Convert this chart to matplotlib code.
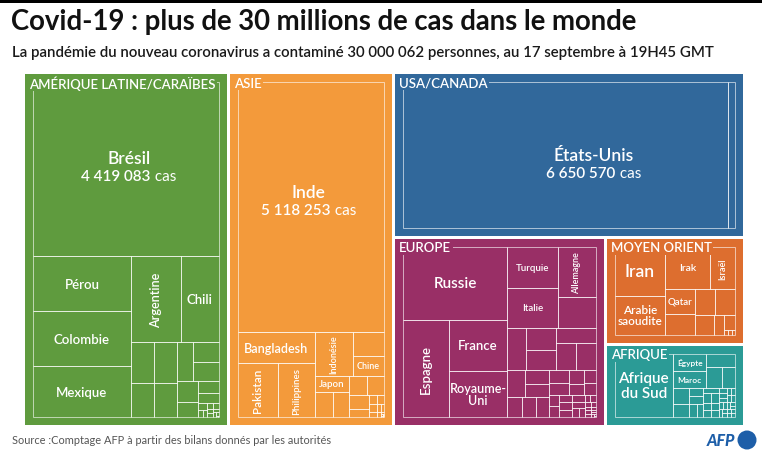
import matplotlib

matplotlib.use("Agg")
import matplotlib.pyplot as plt
from matplotlib.patches import Rectangle, Circle

plt.rcParams["font.family"] = ["Lato", "DejaVu Sans"]

# cases per country, 17 Sept 2020 19H45 GMT (AFP tally)
latam_names = ["Brésil", "Pérou", "Colombie", "Mexique", "Argentine", "Chili", "Bolivie",
               "Équateur", "Rép. dominicaine", "Panama", "Guatemala", "Honduras", "Venezuela",
               "Costa Rica", "Porto Rico", "Paraguay", "Salvador", "Haïti", "Nicaragua",
               "Cuba", "Suriname", "Jamaïque", "Bahamas", "Trinité-et-Tobago", "Guyana",
               "Uruguay", "Belize", "Barbade", "Antigua"]
latam_cases = [4419083, 738020, 736377, 680931, 589012, 442827, 131000, 126000, 107000,
               105000, 87000, 70000, 66000, 60000, 44000, 35000, 29000, 8600, 5100, 4900,
               4700, 4400, 3300, 3100, 2200, 1800, 1600, 190, 95]

asia_names = ["Inde", "Bangladesh", "Pakistan", "Philippines", "Indonésie", "Kazakhstan",
              "Chine", "Japon", "Népal", "Singapour", "Ouzbékistan", "Kirghizistan",
              "Afghanistan", "Corée du Sud", "Malaisie", "Tadjikistan", "Maldives",
              "Hong Kong", "Birmanie", "Thaïlande", "Sri Lanka", "Vietnam", "Taïwan",
              "Mongolie", "Cambodge", "Bhoutan", "Brunei"]
asia_cases = [5118253, 344264, 304386, 276289, 232628, 107590, 85244, 77009, 61593, 57454,
              49826, 45152, 38897, 22783, 10147, 9167, 9009, 4976, 4434, 3490, 3271, 1063,
              498, 311, 275, 239, 145]

usa_names = ["États-Unis", "Canada"]
usa_cases = [6650570, 140867]

europe_names = ["Russie", "Espagne", "France", "Royaume-Uni", "Turquie", "Italie",
                "Allemagne", "Ukraine", "Roumanie", "Belgique", "Pays-Bas", "Suède",
                "Pologne", "Biélorussie", "Portugal", "Suisse", "Arménie", "Moldavie",
                "Rép. tchèque", "Azerbaïdjan", "Autriche", "Serbie", "Irlande", "Bosnie",
                "Danemark", "Bulgarie", "Macédoine du Nord", "Kosovo", "Hongrie", "Croatie",
                "Grèce", "Norvège", "Albanie", "Finlande", "Luxembourg", "Slovaquie",
                "Monténégro", "Slovénie", "Lituanie", "Géorgie", "Estonie", "Malte",
                "Islande", "Chypre", "Lettonie", "Andorre", "Saint-Marin", "Monaco"]
europe_cases = [1086955, 640040, 428696, 381614, 299810, 293025, 268960, 166244, 111550,
                96081, 88073, 87345, 76571, 75674, 67176, 48265, 46119, 44000, 39262, 38645,
                36217, 32908, 31549, 22431, 21847, 18863, 16371, 14600, 14460, 14261, 14400,
                12480, 11816, 8725, 7600, 5700, 5500, 3900, 3100, 2800, 2600, 2600, 2200,
                1500, 1400, 1400, 730, 180]

mo_names = ["Iran", "Arabie saoudite", "Irak", "Israël", "Qatar", "Koweït", "Oman",
            "Émirats arabes unis", "Bahreïn", "Palestine", "Liban", "Syrie", "Jordanie",
            "Yémen"]
mo_cases = [410334, 327551, 304589, 175972, 122917, 98528, 90000, 84242, 63135, 33000,
            28000, 3600, 3300, 2024]

africa_names = ["Afrique du Sud", "Égypte", "Maroc", "Éthiopie", "Nigeria", "Algérie",
                "Ghana", "Kenya", "Libye", "Cameroun", "Côte d'Ivoire", "Madagascar",
                "Sénégal", "Zambie", "Soudan", "RD Congo", "Guinée", "Namibie", "Gabon",
                "Zimbabwe", "Mauritanie", "Tunisie", "Malawi", "Mozambique", "Djibouti",
                "Ouganda", "Eswatini", "Cap-Vert", "Centrafrique", "Rwanda", "Angola",
                "Somalie", "Gambie", "Congo", "Mali", "Soudan du Sud", "Botswana", "Bénin"]
africa_cases = [653444, 101500, 97264, 66224, 56256, 49413, 45600, 36300, 22000, 20000,
                18800, 15700, 14400, 13700, 13400, 10100, 9900, 9600, 8500, 7500, 7300,
                6000, 5600, 5300, 5300, 5000, 5000, 4900, 4700, 4500, 3800, 3400, 3400,
                3100, 2900, 2600, 2500, 2300]

region_names = ["AMÉRIQUE LATINE/CARAÏBES", "ASIE", "USA/CANADA", "EUROPE",
                "MOYEN ORIENT", "AFRIQUE"]
region_colors = ["#5f9b3e", "#f39a3b", "#31689b", "#992f66", "#dd6e2f", "#2b9b96"]
region_data = [(latam_names, latam_cases), (asia_names, asia_cases), (usa_names, usa_cases),
               (europe_names, europe_cases), (mo_names, mo_cases), (africa_names, africa_cases)]

# label styling: text, size, rotation
labels = {
    "Pérou": ("Pérou", 9.5, 0), "Colombie": ("Colombie", 9.5, 0),
    "Mexique": ("Mexique", 9.5, 0), "Argentine": ("Argentine", 9, 90),
    "Chili": ("Chili", 9.5, 0),
    "Bangladesh": ("Bangladesh", 9, 0), "Pakistan": ("Pakistan", 8.5, 90),
    "Philippines": ("Philippines", 7, 90), "Indonésie": ("Indonésie", 6.5, 90),
    "Chine": ("Chine", 6.5, 0), "Japon": ("Japon", 7, 0),
    "Russie": ("Russie", 11, 0), "Espagne": ("Espagne", 9.5, 90), "France": ("France", 9.5, 0),
    "Royaume-Uni": ("Royaume-\nUni", 9, 0), "Turquie": ("Turquie", 7, 0),
    "Italie": ("Italie", 7, 0), "Allemagne": ("Allemagne", 6.5, 90),
    "Iran": ("Iran", 12.5, 0), "Irak": ("Irak", 7.5, 0), "Israël": ("Israël", 6.5, 90),
    "Arabie saoudite": ("Arabie\nsaoudite", 8.5, 0), "Qatar": ("Qatar", 7, 0),
    "Afrique du Sud": ("Afrique\ndu Sud", 11, 0), "Égypte": ("Égypte", 6, 0),
    "Maroc": ("Maroc", 6, 0),
}
big = {"Brésil": "4 419 083", "Inde": "5 118 253", "États-Unis": "6 650 570"}
big_shift = {"Brésil": (3, -2), "Inde": (-2, -6), "États-Unis": (28, 9)}


def binary(values, x0, y0, x1, y1):
    # same split rule as d3.treemapBinary, y pointing down
    sums = [0]
    for v in values:
        sums.append(sums[-1] + v)
    rects = [None] * len(values)

    def part(i, j, value, x0, y0, x1, y1):
        if i >= j - 1:
            rects[i] = (x0, y0, x1, y1)
            return
        target = value / 2 + sums[i]
        k, hi = i + 1, j - 1
        while k < hi:
            mid = (k + hi) // 2
            if sums[mid] < target:
                k = mid + 1
            else:
                hi = mid
        if target - sums[k - 1] < sums[k] - target and i + 1 < k:
            k -= 1
        left = sums[k] - sums[i]
        right = value - left
        if x1 - x0 > y1 - y0:
            xk = (x0 * right + x1 * left) / value
            part(i, k, left, x0, y0, xk, y1)
            part(k, j, right, xk, y0, x1, y1)
        else:
            yk = (y0 * right + y1 * left) / value
            part(i, k, left, x0, y0, x1, yk)
            part(k, j, right, x0, yk, x1, y1)

    part(0, len(values), sums[-1], x0, y0, x1, y1)
    return rects


fig = plt.figure(figsize=(7.68, 4.6), dpi=100)
ax = fig.add_axes([0, 0, 1, 1])
ax.set_xlim(0, 768)
ax.set_ylim(460, 0)
ax.axis("off")
renderer = fig.canvas.get_renderer()

ax.add_patch(Rectangle((0, 0), 762, 4, color="black", lw=0))
ax.text(11, 22, "Covid-19 : plus de 30 millions de cas dans le monde", fontsize=19.8,
        fontweight="bold", color="#111111", va="center")
ax.text(12, 53, "La pandémie du nouveau coronavirus a contaminé 30 000 062 personnes, "
        "au 17 septembre à 19H45 GMT", fontsize=10.85, fontweight="semibold",
        color="#1a1a1a", va="center")
ax.text(12, 441, "Source :Comptage AFP à partir des bilans donnés par les autorités",
        fontsize=7.9, color="#555555", va="center")
ax.text(735, 441, "AFP", fontsize=11.5, fontweight="black", style="italic",
        color="#1d5ea8", ha="right", va="center")
ax.add_patch(Circle((747, 441), 9.5, color="#1d5ea8", lw=0))

gap = 1.5
pad = 8
totals = [sum(c) for _, c in region_data]
order = sorted(range(len(totals)), key=lambda i: -totals[i])
reg_rects = binary([totals[i] for i in order], 25 - gap, 75 - gap, 743 + gap, 426 + gap)

for idx, (rx0, ry0, rx1, ry1) in zip(order, reg_rects):
    rx0, ry0, rx1, ry1 = rx0 + gap, ry0 + gap, rx1 - gap, ry1 - gap
    col = region_colors[idx]
    ax.add_patch(Rectangle((rx0, ry0), rx1 - rx0, ry1 - ry0, facecolor=col, lw=0))
    names, cases = region_data[idx]
    srt = sorted(zip(cases, names), reverse=True)
    rects = binary([c for c, _ in srt], rx0 + pad, ry0 + pad, rx1 - pad, ry1 - pad)
    for (c, n), (x0, y0, x1, y1) in zip(srt, rects):
        ax.add_patch(Rectangle((x0, y0), x1 - x0, y1 - y0, fill=False,
                               edgecolor=(1, 1, 1, 0.6), lw=0.7))
        cx, cy = (x0 + x1) / 2, (y0 + y1) / 2
        if n in big:
            dx, dy = big_shift[n]
            cx, cy = cx + dx, cy + dy
            ax.text(cx, cy - 9, n, fontsize=12.5, fontweight="semibold", color="white",
                    ha="center", va="center")
            t1 = ax.text(0, cy + 9, big[n], fontsize=11, fontweight="semibold",
                         color="white", va="center")
            t2 = ax.text(0, cy + 9, " cas", fontsize=11, color="white", va="center")
            w1 = t1.get_window_extent(renderer).width
            w2 = t2.get_window_extent(renderer).width
            t1.set_x(cx - (w1 + w2) / 2)
            t2.set_x(cx - (w1 + w2) / 2 + w1)
        elif n in labels:
            txt, size, rot = labels[n]
            ax.text(cx, cy, txt, fontsize=size, fontweight="semibold", color="white",
                    ha="center", va="center", rotation=rot, linespacing=1.05)
    ax.text(rx0 + 4, ry0 + pad + 0.5, region_names[idx], fontsize=9.5,
            fontweight="semibold", color="white", va="center", ha="left",
            bbox=dict(facecolor=col, edgecolor="none", pad=1.2))

fig.savefig("out.png", dpi=100)
